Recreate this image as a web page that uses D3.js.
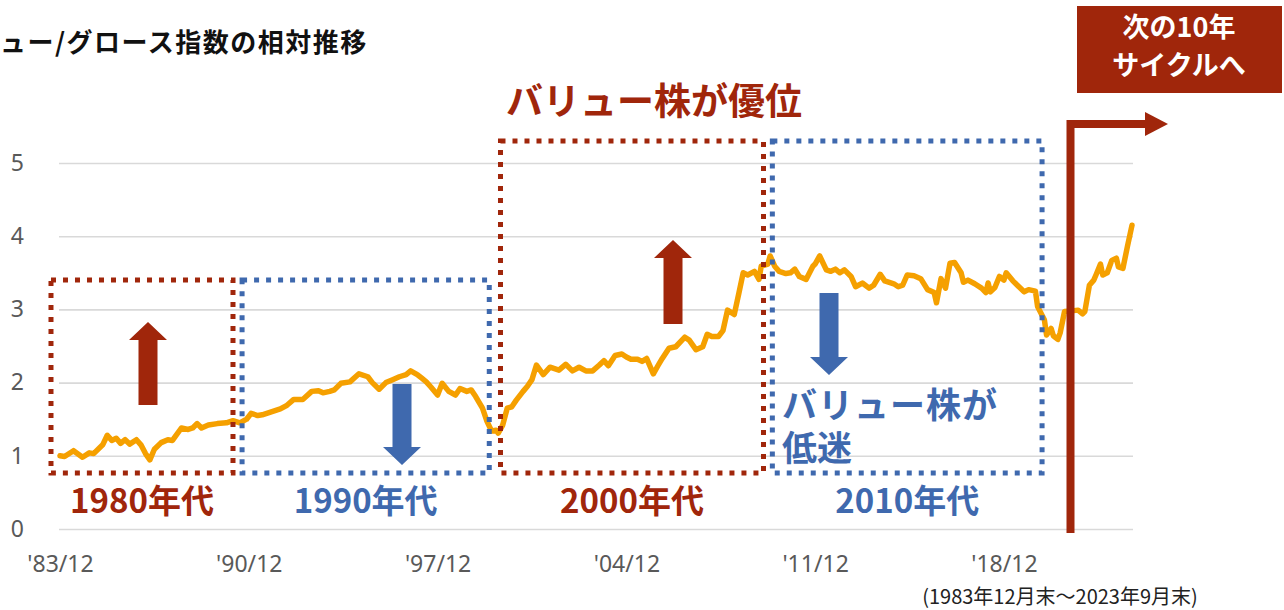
<!DOCTYPE html>
<html>
<head>
<meta charset="utf-8">
<script src="https://cdn.jsdelivr.net/npm/d3@7"></script>
<style>
  html, body { margin: 0; padding: 0; background: #fff; }
  svg { display: block; }
  .jp { font-family: "Noto Sans CJK JP", "Noto Sans", sans-serif; }
</style>
</head>
<body>
<svg id="chart" width="1284" height="610"></svg>
<script>
// month-end points (1983/12 - 2023/9)
var months = ["1983-12","1984-02","1984-06","1984-10","1985-01","1985-03","1985-07","1985-09","1985-11","1986-01",
  "1986-03","1986-05","1986-07","1986-10","1986-12","1987-02","1987-04","1987-06","1987-09","1987-12",
  "1988-02","1988-06","1988-09","1988-11","1989-01","1989-03","1989-06","1989-10","1990-02","1990-05",
  "1990-08","1990-11","1991-01","1991-04","1991-06","1991-09","1992-02","1992-05","1992-08","1992-12",
  "1993-04","1993-07","1993-09","1993-12","1994-02","1994-05","1994-09","1995-01","1995-05","1995-07",
  "1995-10","1996-01","1996-04","1996-07","1996-10","1996-12","1997-03","1997-05","1997-07","1997-09",
  "1997-12","1998-02","1998-05","1998-08","1998-10","1999-01","1999-03","1999-05","1999-08","1999-10",
  "1999-12","2000-02","2000-03","2000-05","2000-07","2000-09","2000-11","2001-02","2001-04","2001-06",
  "2001-08","2001-11","2002-02","2002-06","2002-09","2002-12","2003-03","2003-06","2003-09","2003-12",
  "2004-02","2004-04","2004-07","2004-10","2004-12","2005-02","2005-05","2005-07","2005-09","2005-12",
  "2006-02","2006-04","2006-07","2006-10","2007-02","2007-04","2007-07","2007-10","2007-12","2008-02",
  "2008-05","2008-07","2008-09","2008-12","2009-02","2009-04","2009-06","2009-09","2009-11","2009-12",
  "2010-03","2010-04","2010-06","2010-08","2010-11","2011-01","2011-03","2011-05","2011-08","2011-11",
  "2011-12","2012-02","2012-05","2012-07","2012-09","2012-11","2013-01","2013-04","2013-06","2013-09",
  "2013-12","2014-02","2014-05","2014-07","2014-11","2015-01","2015-03","2015-05","2015-08","2015-11",
  "2016-02","2016-05","2016-06","2016-08","2016-10","2016-12","2017-02","2017-05","2017-06","2017-08",
  "2017-11","2018-02","2018-04","2018-05","2018-06","2018-08","2018-10","2018-12","2019-01","2019-04",
  "2019-06","2019-09","2019-11","2020-02","2020-03","2020-06","2020-07","2020-09","2020-10","2020-12",
  "2021-01","2021-03","2021-06","2021-09","2021-11","2021-12","2022-02","2022-04","2022-05","2022-07",
  "2022-08","2022-10","2022-12","2023-02","2023-03","2023-05","2023-07","2023-09"];

var ratio = [1.00,0.99,1.07,0.98,1.04,1.03,1.15,1.28,1.21,1.24,
  1.17,1.22,1.16,1.22,1.15,1.03,0.945,1.09,1.18,1.22,
  1.21,1.38,1.36,1.38,1.44,1.38,1.42,1.44,1.45,1.48,
  1.45,1.50,1.58,1.55,1.56,1.59,1.64,1.69,1.77,1.77,
  1.88,1.89,1.86,1.88,1.90,1.99,2.01,2.12,2.08,2.00,
  1.91,2.00,2.04,2.08,2.11,2.16,2.11,2.06,2.01,1.94,
  1.83,1.99,1.88,1.83,1.92,1.88,1.90,1.81,1.65,1.47,
  1.34,1.35,1.31,1.42,1.65,1.67,1.76,1.88,1.95,2.04,
  2.24,2.11,2.21,2.17,2.25,2.16,2.21,2.16,2.16,2.24,
  2.30,2.23,2.37,2.39,2.35,2.32,2.32,2.29,2.33,2.12,
  2.23,2.33,2.47,2.49,2.62,2.58,2.45,2.49,2.66,2.63,
  2.63,2.71,2.99,2.93,3.22,3.50,3.47,3.52,3.41,3.59,
  3.62,3.73,3.59,3.52,3.49,3.50,3.55,3.45,3.41,3.59,
  3.62,3.73,3.54,3.52,3.55,3.50,3.54,3.45,3.31,3.36,
  3.29,3.33,3.48,3.39,3.35,3.31,3.33,3.47,3.46,3.42,
  3.27,3.23,3.09,3.42,3.29,3.63,3.64,3.50,3.37,3.40,
  3.35,3.29,3.23,3.36,3.24,3.30,3.45,3.40,3.50,3.39,
  3.33,3.24,3.27,3.25,3.04,2.86,2.65,2.74,2.64,2.59,
  2.68,2.97,2.98,2.99,2.94,2.97,3.33,3.40,3.47,3.62,
  3.47,3.50,3.67,3.70,3.58,3.56,3.86,4.15];

var xTicks = ["1983-12","1990-12","1997-12","2004-12","2011-12","2018-12"];
var yTicks = [0,1,2,3,4,5];

// decade boxes: [from, to, top value]
var decades = [
  {label:"1980年代", from:"1983-08", to:"1990-05", top:3.4, kind:"up"},
  {label:"1990年代", from:"1990-09", to:"1999-11", top:3.4, kind:"down"},
  {label:"2000年代", from:"2000-04", to:"2010-01", top:5.3, kind:"up"},
  {label:"2010年代", from:"2010-05", to:"2020-05", top:5.3, kind:"down"}
];

var RED = "#A0260B", BLUE = "#3F69AE", ORANGE = "#F5A000", GRAY = "#595959";

var parse = d3.timeParse("%Y-%m");
var data = months.map(function(m, i){ return {date: parse(m), value: ratio[i]}; });

var svg = d3.select("#chart");
var plotLeft = 59, plotRight = 1133, plotTop = 163, plotBottom = 529;

var x = d3.scaleTime()
  .domain([parse("1983-12"), parse("2023-09")])
  .range([60, 1132]);
var y = d3.scaleLinear().domain([0, 5]).range([plotBottom, plotTop]);

// grid + y labels
var yAxis = svg.append("g")
  .attr("transform", "translate(" + plotLeft + ",0)")
  .call(d3.axisLeft(y).tickValues(yTicks).tickSize(-(plotRight - plotLeft)).tickPadding(35).tickFormat(d3.format("d")));
yAxis.select(".domain").remove();
yAxis.selectAll("line").attr("stroke", "#d9d9d9").attr("stroke-width", 1.6);
yAxis.selectAll("text")
  .attr("fill", GRAY).attr("font-size", 23).attr("font-family", "Noto Sans, sans-serif");

// x labels
var xAxis = svg.append("g")
  .attr("transform", "translate(0," + plotBottom + ")")
  .call(d3.axisBottom(x).tickValues(xTicks.map(parse)).tickSize(0).tickPadding(27)
    .tickFormat(function(d){ return "'" + d3.timeFormat("%y/%m")(d); }));
xAxis.select(".domain").remove();
xAxis.selectAll("text")
  .attr("fill", GRAY).attr("font-size", 23).attr("font-family", "Noto Sans, sans-serif");

// the ratio line
var line = d3.line().x(function(d){ return x(d.date); }).y(function(d){ return y(d.value); });
svg.append("path")
  .datum(data)
  .attr("d", line)
  .attr("fill", "none")
  .attr("stroke", ORANGE)
  .attr("stroke-width", 5.5)
  .attr("stroke-linejoin", "round")
  .attr("stroke-linecap", "round");

// dotted decade boxes
var boxBottom = 473;
decades.forEach(function(d){
  var col = d.kind == "up" ? RED : BLUE;
  var x0 = x(parse(d.from)), x1 = x(parse(d.to)), y0 = y(d.top);
  svg.append("rect")
    .attr("x", x0).attr("y", y0)
    .attr("width", x1 - x0).attr("height", boxBottom - y0)
    .attr("fill", "none")
    .attr("stroke", col)
    .attr("stroke-width", 5)
    .attr("stroke-dasharray", "5 7");
  svg.append("text")
    .attr("class", "jp")
    .attr("x", (x0 + x1) / 2)
    .attr("y", 513)
    .attr("text-anchor", "middle")
    .attr("font-size", 33)
    .attr("font-weight", "bold")
    .attr("fill", col)
    .text(d.label);
});

// block arrows: cx, tip, tail
function blockArrow(cx, yTip, yTail, col){
  var sw = 9.5, hw = 19, hh = 18;
  var dir = yTail > yTip ? 1 : -1;
  var yb = yTip + dir * hh;
  var pts = [[cx, yTip], [cx + hw, yb], [cx + sw, yb], [cx + sw, yTail],
             [cx - sw, yTail], [cx - sw, yb], [cx - hw, yb]];
  svg.append("polygon")
    .attr("points", pts.map(function(p){ return p.join(","); }).join(" "))
    .attr("fill", col);
}
blockArrow(148, 322, 405, RED);
blockArrow(402, 465, 384, BLUE);
blockArrow(673, 240, 324, RED);
blockArrow(829, 375, 293, BLUE);

// next-cycle arrow
svg.append("path")
  .attr("d", "M1070.5,533 V124 H1147")
  .attr("fill", "none")
  .attr("stroke", RED)
  .attr("stroke-width", 8);
svg.append("polygon")
  .attr("points", "1145,112 1168,124 1145,136")
  .attr("fill", RED);

svg.append("rect")
  .attr("x", 1077).attr("y", 6).attr("width", 205).attr("height", 87)
  .attr("fill", RED);
svg.append("text").attr("class", "jp")
  .attr("x", 1179).attr("y", 37).attr("text-anchor", "middle")
  .attr("font-size", 27).attr("font-weight", "bold").attr("fill", "#fff")
  .text("次の10年");
svg.append("text").attr("class", "jp")
  .attr("x", 1179).attr("y", 75).attr("text-anchor", "middle")
  .attr("font-size", 27).attr("font-weight", "bold").attr("fill", "#fff")
  .text("サイクルへ");

// titles / annotations (the chart title runs off the left edge, as in the source)
svg.append("text").attr("class", "jp")
  .attr("x", -55).attr("y", 52)
  .attr("font-size", 26).attr("font-weight", "bold").attr("fill", "#111")
  .attr("letter-spacing", 1.5)
  .text("バリュー/グロース指数の相対推移");

svg.append("text").attr("class", "jp")
  .attr("x", 654).attr("y", 115).attr("text-anchor", "middle")
  .attr("font-size", 37).attr("font-weight", "bold").attr("fill", RED)
  .text("バリュー株が優位");

svg.append("text").attr("class", "jp")
  .attr("x", 782).attr("y", 418)
  .attr("font-size", 35).attr("font-weight", "bold").attr("fill", BLUE)
  .attr("letter-spacing", 1)
  .text("バリュー株が");
svg.append("text").attr("class", "jp")
  .attr("x", 782).attr("y", 461)
  .attr("font-size", 35).attr("font-weight", "bold").attr("fill", BLUE)
  .text("低迷");

svg.append("text").attr("class", "jp")
  .attr("x", 1060).attr("y", 604).attr("text-anchor", "middle")
  .attr("font-size", 20).attr("fill", "#222")
  .text("(1983年12月末～2023年9月末)");
</script>
</body>
</html>
